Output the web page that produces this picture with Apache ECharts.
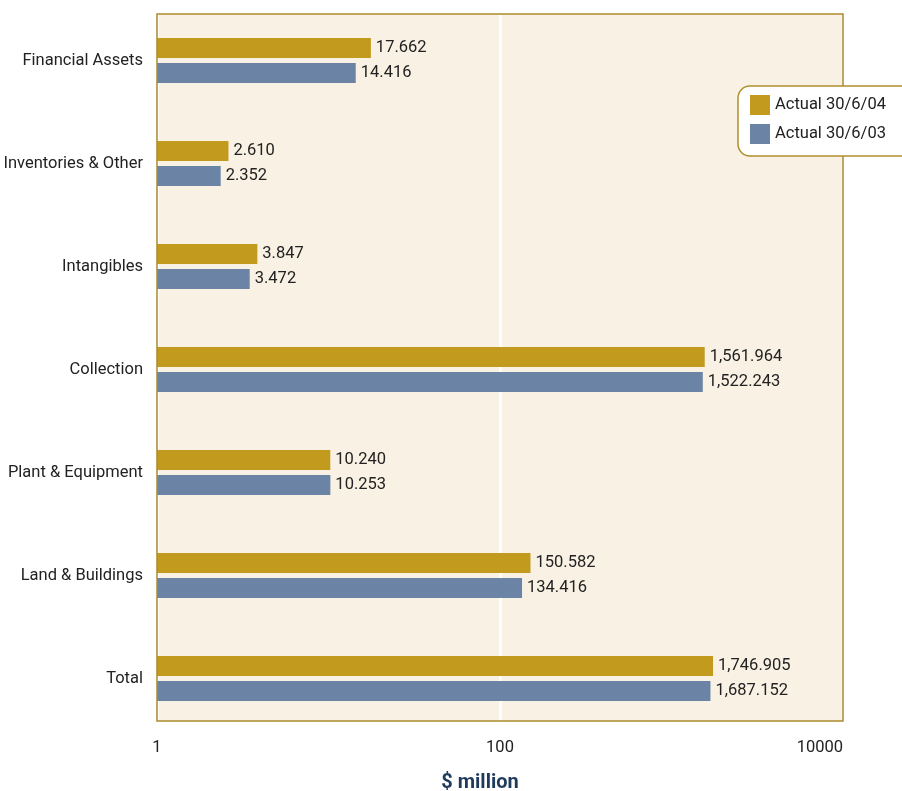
<!DOCTYPE html>
<html>
<head>
<meta charset="utf-8">
<script src="https://cdn.jsdelivr.net/npm/echarts@6/dist/echarts.min.js"></script>
<style>
html,body{margin:0;padding:0;background:#fff;}
#chart{width:902px;height:791px;}
</style>
</head>
<body>
<div id="chart"></div>
<script>
var categories = ['Financial Assets','Inventories & Other','Intangibles','Collection','Plant & Equipment','Land & Buildings','Total'];
var actual04 = [17.662, 2.610, 3.847, 1561.964, 10.240, 150.582, 1746.905];
var actual03 = [14.416, 2.352, 3.472, 1522.243, 10.253, 134.416, 1687.152];
var seriesNames = ['Actual 30/6/04','Actual 30/6/03'];
var xTicks = [1, 100, 10000];

var FONT = 'Roboto, "Liberation Sans", sans-serif';

function fmt(v){
  var s = v.toFixed(3);
  var parts = s.split('.');
  parts[0] = parts[0].replace(/\B(?=(\d{3})+(?!\d))/g, ',');
  return parts.join('.');
}

var chart = echarts.init(document.getElementById('chart'), null, {renderer:'canvas'});
var labelCfg = {
  show:true, position:'right', distance:5,
  fontFamily:FONT, fontSize:16.5, color:'#222',
  formatter:function(p){return fmt(p.value);}
};
chart.setOption({
  animation:false,
  textStyle:{fontFamily:FONT},
  title:{text:'$ million', left:475, textAlign:'center', top:768,
    textStyle:{fontFamily:FONT, fontSize:20, fontWeight:'bold', color:'#1f3b5c'}},
  legend:{
    orient:'vertical', left:738, top:86, z:20,
    data:seriesNames,
    itemWidth:20, itemHeight:20, itemGap:9,
    padding:[9,30,12,12],
    backgroundColor:'#fff', borderColor:'#b08f2c', borderWidth:1.5, borderRadius:12,
    textStyle:{fontFamily:FONT, fontSize:16.5, color:'#222'},
    icon:'rect'
  },
  grid:[
    {left:157, right:59, top:14, bottom:70, show:true, backgroundColor:'#f8f1e4', borderWidth:0, z:0, outerBoundsMode:'none', containLabel:false},
    {left:157, right:59, top:9, bottom:61, show:false, outerBoundsMode:'none', containLabel:false},
    {left:157, right:59, top:14, bottom:70, show:true, backgroundColor:'transparent', borderColor:'#ac8a2c', borderWidth:1.5, z:5, outerBoundsMode:'none', containLabel:false}
  ],
  xAxis:[
    {gridIndex:0, type:'log', logBase:10, min:1, max:10000, interval:2,
      axisLine:{show:false}, axisTick:{show:false},
      axisLabel:{margin:18, fontFamily:FONT, fontSize:16.5, color:'#222', alignMaxLabel:'right',
        formatter:function(v){return xTicks.indexOf(v)>=0 ? String(v) : '';}},
      splitLine:{show:true, lineStyle:{color:'#ffffff', width:2.5}}
    },
    {gridIndex:1, type:'log', logBase:10, min:1, max:10000, interval:2, show:false},
    {gridIndex:2, type:'log', logBase:10, min:1, max:10000, interval:2, show:false}
  ],
  yAxis:[
    {gridIndex:0, type:'value', show:false},
    {gridIndex:1, type:'category', data:categories, inverse:true,
      axisLine:{show:false}, axisTick:{show:false}, splitLine:{show:false},
      axisLabel:{margin:14, fontFamily:FONT, fontSize:16.5, color:'#222'}
    },
    {gridIndex:2, type:'value', show:false}
  ],
  series:[
    {name:seriesNames[0], type:'bar', xAxisIndex:1, yAxisIndex:1, data:actual04,
      barWidth:20, barGap:'25%', itemStyle:{color:'#c19a1e', borderWidth:0}, label:labelCfg, z:3},
    {name:seriesNames[1], type:'bar', xAxisIndex:1, yAxisIndex:1, data:actual03,
      barWidth:20, barGap:'25%', itemStyle:{color:'#6b84a6', borderWidth:0}, label:labelCfg, z:3}
  ]
});
</script>
</body>
</html>
